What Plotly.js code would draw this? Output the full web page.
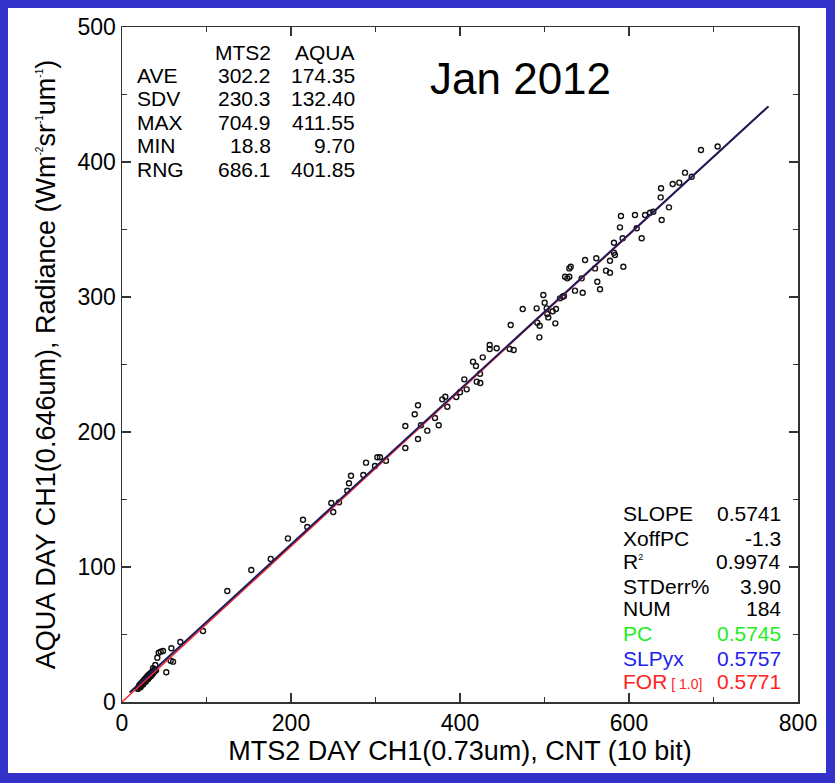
<!DOCTYPE html>
<html>
<head>
<meta charset="utf-8">
<script src="https://cdn.plot.ly/plotly-3.0.1.min.js"></script>
<style>
html,body{margin:0;padding:0;background:#3333cc;width:835px;height:783px;overflow:hidden;}
#chart{position:absolute;left:8px;top:8px;width:818px;height:765px;background:#fff;}
</style>
</head>
<body>
<div id="chart"></div>
<script>
// ---- data: MTS2 counts (x) vs AQUA radiance (y) ----
var mtsCluster = [18.8,19.5,20.1,20.6,21.0,21.4,21.9,22.3,22.7,23.0,
                  23.4,23.8,24.1,24.5,24.9,25.2,25.6,26.0,26.3,26.7,
                  27.1,27.4,27.8,28.2,28.5,28.9,29.3,29.6,30.0,30.4,
                  30.8,31.1,31.5,31.9,32.2,32.6,33.0,33.4,33.7,34.1,
                  34.5,34.9,35.2,35.6,36.0,36.4,36.8,37.2,37.6,38.0,
                  38.5,39.0,39.6,40.3,22.0,25.0,28.0,31.0,34.0,26.5,
                  29.5,32.5,35.5,24.0,27.6,30.6,33.6,36.6,21.2,23.6];
var aquaCluster = [9.7,10.6,11.8,11.2,12.4,12.0,13.1,12.6,13.8,13.2,
                   14.0,13.5,14.6,14.1,15.2,14.5,15.8,15.0,16.3,15.6,
                   16.9,16.1,17.3,16.6,17.9,17.0,18.4,17.5,18.9,18.0,
                   19.4,18.4,19.8,18.9,20.3,19.3,20.8,19.8,21.2,20.2,
                   21.6,20.6,22.1,21.0,22.5,21.5,22.9,22.0,23.4,22.4,
                   23.7,23.0,24.2,23.6,11.0,13.0,15.0,17.0,19.0,14.8,
                   16.8,18.6,20.4,13.9,16.0,17.7,19.1,21.1,12.8,14.2];
var mtsLow  = [95.9,69.0,58.4,48.5,45.8,43.4,41.8,57.6,60.4,52.4,39.4,36.7];
var aquaLow = [52.6,44.4,39.8,37.8,37.3,36.5,32.8,30.6,29.9,22.0,27.4,25.0];
var mtsMid  = [124.6,153.0,176.0,196.4,214.2,219.3,247.7,250.0,256.8,266.6,
               268.6,271.0,285.6,288.8,299.4,302.2,305.3,312.4,335.3,335.3,
               346.4,350.3,350.3,353.8,361.3,370.4,374.8,379.0,382.6,385.0,
               395.6,400.0,405.1,407.9,415.4,418.9,419.8,424.0,423.7,426.9,
               435.1,435.1,443.4,458.8,463.5];
var aquaMid = [82.2,97.8,106.0,121.2,135.0,129.6,147.4,140.7,147.9,156.5,
               162.0,167.6,168.1,177.3,174.8,181.3,181.3,178.7,188.1,204.4,
               213.1,219.8,194.8,205.0,201.0,210.4,205.0,224.2,226.1,218.7,
               225.9,229.4,239.0,231.6,252.1,248.9,237.3,236.3,243.2,255.3,
               264.4,261.5,262.0,261.5,260.7];
var mtsHigh = [460.0,474.2,490.7,491.5,494.3,493.9,498.6,500.2,502.6,503.3,
               504.5,509.7,513.6,512.8,518.3,521.5,523.0,524.3,527.0,529.4,
               529.4,531.0,536.1,544.0,545.2,548.0,559.8,561.3,562.5,565.7,
               572.8,577.5,577.5,582.2,583.4,582.2,593.3,589.3,590.5,592.5,
               607.1,609.1,615.0,619.0,624.9,628.8,638.7,637.5,637.9,647.3,
               651.7,659.5,666.3,674.2,685.2,704.9];
var aquaHigh = [279.3,291.1,291.6,281.0,278.7,270.1,301.5,295.8,291.6,287.4,
                284.9,289.4,291.1,280.5,299.0,300.2,300.7,315.0,313.8,315.0,
                321.2,322.4,304.7,313.8,303.2,327.4,321.2,328.7,311.3,305.7,
                319.5,318.0,326.9,332.8,331.1,340.2,322.4,351.6,360.0,343.5,
                360.7,350.9,343.5,360.7,362.4,363.2,357.0,373.8,380.5,366.4,
                383.7,384.7,392.1,389.1,408.9,411.5];
// regression / forced lines (end points)
var forLineX = [0, 765];
var forLineY = [0, 441.2];
var fitLineX = [9, 765];
var fitLineY = [7.0, 441.2];
// stats text
var statRows  = ['AVE','SDV','MAX','MIN','RNG'];
var statMTS2  = ['302.2','230.3','704.9','18.8','686.1'];
var statAQUA  = ['174.35','132.40','411.55','9.70','401.85'];
var fitLabels = ['SLOPE','XoffPC','R<sup><span style="font-size:9px">2</span></sup>','STDerr%','NUM','PC','SLPyx','FOR<span style="font-size:14px"> [ 1.0]</span>'];
var fitValues = ['0.5741','-1.3','0.9974','3.90','184','0.5745','0.5757','0.5771'];
var fitColors = ['#000','#000','#000','#000','#000','#22ee22','#2222ee','#ff2222'];

var mtsAll = mtsCluster.concat(mtsLow, mtsMid, mtsHigh);
var aquaAll = aquaCluster.concat(aquaLow, aquaMid, aquaHigh);

var FONT = 'Liberation Sans, Arial, Helvetica, sans-serif';

var traces = [
  {x: mtsAll, y: aquaAll, type:'scatter', mode:'markers',
   marker:{symbol:'circle-open', size:5, color:'#111', line:{width:1.4, color:'#111'}},
   hoverinfo:'skip', showlegend:false},
  {x: forLineX, y: forLineY, type:'scatter', mode:'lines',
   line:{color:'#ff2a2a', width:1.5}, showlegend:false, hoverinfo:'skip'},
  {x: fitLineX, y: fitLineY, type:'scatter', mode:'lines',
   line:{color:'#1b1b5c', width:2}, showlegend:false, hoverinfo:'skip'}
];

var ann = [];
var topRowsY = [463.9, 446.7, 429.3, 412.1, 394.8];
ann.push({x:178.7, y:481.1, text:'MTS2', xanchor:'right', yanchor:'middle'});
ann.push({x:278.1, y:481.1, text:'AQUA', xanchor:'right', yanchor:'middle'});
for (var i=0;i<statRows.length;i++){
  ann.push({x:15.4, y:topRowsY[i], text:statRows[i], xanchor:'left', yanchor:'middle'});
  ann.push({x:178.7, y:topRowsY[i], text:statMTS2[i], xanchor:'right', yanchor:'middle'});
  ann.push({x:278.1, y:topRowsY[i], text:statAQUA[i], xanchor:'right', yanchor:'middle'});
}
var botRowsY = [139.3, 120.8, 103.9, 85.4, 69.4, 50.4, 32.4, 15.0];
var botLabelY = [139.3, 120.8, 104.3, 85.4, 69.4, 50.4, 32.4, 15.0];
for (var j=0;j<fitLabels.length;j++){
  ann.push({x:591, y:botLabelY[j], text:fitLabels[j], xanchor:'left', yanchor:'middle', font:{family:FONT,size:21,color:fitColors[j]}});
  ann.push({x:781.9, y:botRowsY[j], text:fitValues[j], xanchor:'right', yanchor:'middle', font:{family:FONT,size:21,color:fitColors[j]}});
}
ann.push({x:471, y:462.2, text:'Jan 2012', xanchor:'center', yanchor:'middle', font:{family:FONT,size:44,color:'#000'}});
ann.forEach(function(a){
  a.xref='x'; a.yref='y'; a.showarrow=false;
  if(!a.font) a.font={family:FONT,size:21,color:'#000'};
});

var axisCommon = {
  showline:true, linecolor:'#333', linewidth:1.5, mirror:'allticks',
  ticks:'inside', ticklen:9, tickwidth:1.3, tickcolor:'#333',
  showgrid:false, zeroline:false,
  tickfont:{family:FONT, size:23, color:'#000'}
};

var layout = {
  width:818, height:765,
  margin:{l:114, r:28, t:19, b:71},
  paper_bgcolor:'#ffffff', plot_bgcolor:'#ffffff',
  font:{family:FONT, color:'#000'},
  xaxis: Object.assign({}, axisCommon, {
    range:[0,800], tick0:0, dtick:200,
    minor:{dtick:100, ticks:'inside', ticklen:5, tickcolor:'#333', tickwidth:1.2},
    title:{text:'MTS2 DAY CH1(0.73um), CNT (10 bit)', font:{family:FONT,size:27,color:'#000'}, standoff:6}
  }),
  yaxis: Object.assign({}, axisCommon, {
    range:[0,500], tick0:0, dtick:100,
    minor:{dtick:50, ticks:'inside', ticklen:5, tickcolor:'#333', tickwidth:1.2},
    title:{text:'AQUA DAY CH1(0.646um), Radiance (Wm<sup><span style="font-size:10px">-2</span></sup>sr<sup><span style="font-size:10px">-1</span></sup>um<sup><span style="font-size:10px">-1</span></sup>)', font:{family:FONT,size:27,color:'#000'}, standoff:14}
  }),
  annotations: ann
};

Plotly.newPlot('chart', traces, layout, {staticPlot:true, displayModeBar:false});
</script>
</body>
</html>
